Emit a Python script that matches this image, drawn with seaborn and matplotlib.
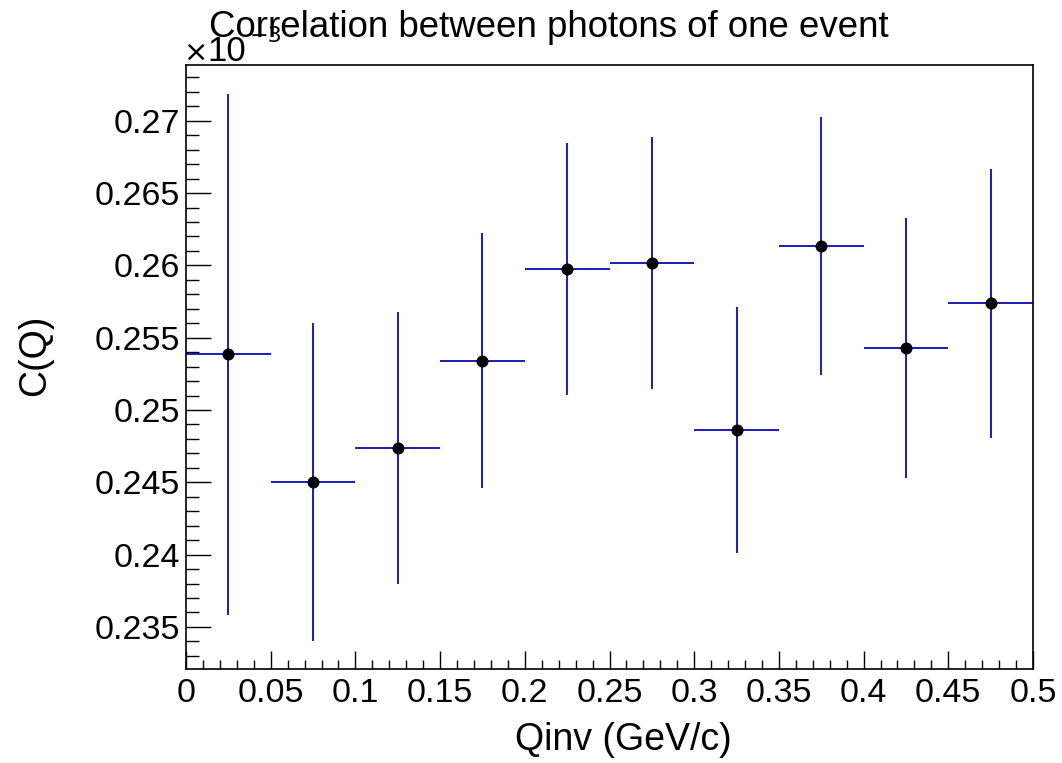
import numpy as np
import pandas as pd
import matplotlib
matplotlib.use("Agg")
import matplotlib.pyplot as plt
from matplotlib.ticker import MultipleLocator, FuncFormatter
import seaborn as sns

# Data (C(Q) in units of 1e-3)
qinv = [0.025, 0.075, 0.125, 0.175, 0.225, 0.275, 0.325, 0.375, 0.425, 0.475]
cq = [0.25385, 0.24502, 0.24735, 0.25341, 0.25977, 0.26015, 0.24860, 0.26134, 0.25431, 0.25738]
cq_err = [0.0180, 0.0110, 0.0094, 0.0088, 0.0087, 0.0087, 0.0085, 0.0089, 0.0090, 0.0093]
bin_half = [0.025] * 10

title = "Correlation between photons of one event"
xlabel = "Qinv (GeV/c)"
ylabel = "C(Q)"

sns.set_theme(style="ticks")
plt.rcParams['font.family'] = ['Liberation Sans', 'DejaVu Sans']
plt.rcParams['text.color'] = 'black'
plt.rcParams['axes.labelcolor'] = 'black'
plt.rcParams['xtick.color'] = 'black'
plt.rcParams['ytick.color'] = 'black'

W, H = 1062, 763
fig = plt.figure(figsize=(W / 100, H / 100), dpi=100)
ax = fig.add_axes([186 / W, 1 - 669.3 / H, (1033 - 186) / W, (669.3 - 64.5) / H])

df = pd.DataFrame({"Qinv": qinv, "CQ": cq, "err": cq_err, "xerr": bin_half})

ax.errorbar(df["Qinv"], df["CQ"], yerr=df["err"], xerr=df["xerr"], fmt="none",
            ecolor="#0a0ab4", elinewidth=1.3, capsize=0, zorder=2)
sns.scatterplot(data=df, x="Qinv", y="CQ", ax=ax, color="black", s=75,
                edgecolor="black", linewidth=0, zorder=3, legend=False)

ax.set_xlim(0, 0.5)
ax.set_ylim(0.23207, 0.27389)

fmt = FuncFormatter(lambda v, p: "%g" % round(v, 6))
ax.xaxis.set_major_locator(MultipleLocator(0.05))
ax.xaxis.set_minor_locator(MultipleLocator(0.01))
ax.yaxis.set_major_locator(MultipleLocator(0.005))
ax.yaxis.set_minor_locator(MultipleLocator(0.001))
ax.xaxis.set_major_formatter(fmt)
ax.yaxis.set_major_formatter(fmt)

ax.tick_params(axis="both", which="both", direction="in", top=False, right=False,
               colors="black", width=1.0)
ax.tick_params(axis="x", which="major", length=13, pad=6, labelsize=24.5)
ax.tick_params(axis="x", which="minor", length=6.5)
ax.tick_params(axis="y", which="major", length=18, pad=4.5, labelsize=24.5)
ax.tick_params(axis="y", which="minor", length=9)

for s in ax.spines.values():
    s.set_visible(True)
    s.set_color("black")
    s.set_linewidth(1.2)

ax.set_xlabel(xlabel, fontsize=27)
ax.set_ylabel(ylabel, fontsize=27)
ax.xaxis.label.set_va("center")
ax.yaxis.label.set_va("center")
ax.xaxis.set_label_coords((623.5 - 186) / 847, (669.3 - 740) / 604.8)
ax.yaxis.set_label_coords((35 - 186) / 847, (669.3 - 355) / 604.8)

fig.text(549 / W, 1 - 37 / H, title, ha="center", va="baseline", fontsize=26.4)
fig.text(184 / W, 1 - 61 / H, "\u00d7", ha="left", va="baseline", fontsize=21,
         family=['DejaVu Sans'])
fig.text(207 / W, 1 - 61 / H, "10", ha="left", va="baseline", fontsize=25)
fig.text(250 / W, 1 - 42 / H, "\u22123", ha="left", va="baseline", fontsize=16,
         family=['DejaVu Sans'])

fig.savefig("out.png", dpi=100, facecolor="white")
